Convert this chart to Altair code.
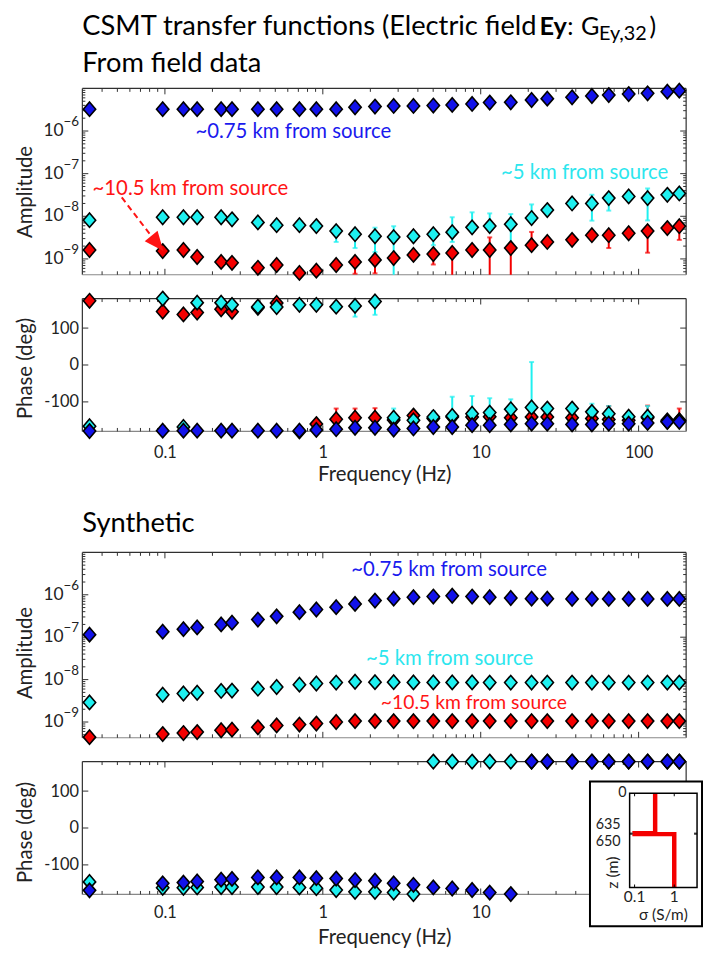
import altair as alt
import pandas as pd

# ---------------- data ----------------
FREQ = [0.0333, 0.0968, 0.131, 0.160, 0.227, 0.266, 0.388, 0.510, 0.711, 0.910,
        1.215, 1.60, 2.14, 2.81, 3.75, 5.01, 6.60, 8.82, 11.4, 15.5,
        21.0, 26.4, 37.9, 50.6, 64.7, 86.5, 114, 152, 181]

# From field data - amplitude
FIELD_AMP_075 = [3.25e-6, 3.25e-6, 3.25e-6, 3.25e-6, 3.25e-6, 3.25e-6, 3.25e-6, 3.25e-6, 3.25e-6, 3.25e-6,
                 3.25e-6, 3.61e-6, 3.75e-6, 3.87e-6, 3.87e-6, 3.96e-6, 4.09e-6, 4.31e-6, 4.65e-6, 4.72e-6,
                 5.34e-6, 5.75e-6, 6.18e-6, 6.62e-6, 6.98e-6, 7.36e-6, 7.65e-6, 8.38e-6, 8.85e-6]
FIELD_AMP_5 = [8.1e-9, 9.5e-9, 9.5e-9, 9.5e-9, 9.5e-9, 8.5e-9, 7.2e-9, 6.2e-9, 6.2e-9, 5.9e-9,
               4.5e-9, 3.8e-9, 3.4e-9, 3.25e-9, 3.4e-9, 3.8e-9, 4.25e-9, 5.5e-9, 5.9e-9, 6.5e-9,
               9.1e-9, 1.4e-8, 2.0e-8, 2.0e-8, 2.67e-8, 2.92e-8, 2.67e-8, 3.19e-8, 3.43e-8]
FIELD_AMP_105 = [1.62e-9, 1.53e-9, 1.62e-9, 1.11e-9, 8.5e-10, 8.1e-10, 6.2e-10, 7.2e-10, 4.7e-10, 5.3e-10,
                 7.2e-10, 8.5e-10, 9.5e-10, 1.05e-9, 1.24e-9, 1.3e-9, 1.38e-9, 1.62e-9, 1.62e-9, 1.8e-9,
                 2.1e-9, 2.5e-9, 2.8e-9, 3.6e-9, 3.6e-9, 4.0e-9, 4.5e-9, 5.3e-9, 5.85e-9]
# error bars (freq, low, high); 1e-10 = extends below the axis
FIELD_AMP_ERR_5 = [(1.215, 2.5e-9, 4.5e-9), (1.60, 1.8e-9, 3.8e-9), (2.14, 1.45e-9, 5.4e-9),
                   (2.81, 1e-10, 5.85e-9), (5.01, 2.1e-9, 3.8e-9), (6.60, 2.5e-9, 9.5e-9),
                   (8.82, 5.5e-9, 1.24e-8), (11.4, 5.9e-9, 1.17e-8), (15.5, 2.0e-9, 1.13e-8),
                   (21.0, 9.1e-9, 1.9e-8), (50.6, 7.9e-9, 3.2e-8), (64.7, 1.36e-8, 2.67e-8),
                   (114, 8.0e-9, 4.5e-8)]
FIELD_AMP_ERR_105 = [(1.60, 4.5e-10, 8.5e-10), (2.14, 4.6e-10, 9.5e-10), (5.01, 7.4e-10, 1.3e-9),
                     (6.60, 1e-10, 1.38e-9), (11.4, 1e-10, 3.2e-9), (15.5, 1e-10, 1.8e-9),
                     (21.0, 2.1e-9, 4.3e-9), (64.7, 1.8e-9, 3.6e-9), (114, 1.4e-9, 4.5e-9),
                     (181, 2.8e-9, 5.85e-9)]

# From field data - phase
FIELD_PH_075 = [-179, -178, -178, -178, -178, -178, -178, -178, -178, -176,
                -174, -170, -170, -175, -172, -168, -168, -163, -163, -161,
                -159, -159, -161, -161, -159, -159, -157, -154, -154]
FIELD_PH_5 = [-166, 180, -168, 169, 169, 163, 158, 157, 163, 163,
              158, 160, 172, -143, -150, -141, -138, -132, -129, -120,
              -115, -118, -118, -127, -132, -140, -140, -150, -150]
FIELD_PH_105 = [174, 145, 137, 142, 151, 144, 155, 168, -180, -160,
                -147, -143, -143, -149, -137, -145, -141, -141, -140, -143,
                -141, -141, -143, -145, -148, -150, -143, -154, -150]
FIELD_PH_ERR_5 = [(1.60, 131, 160), (2.14, 136, 172), (2.81, -143, -118), (5.01, -141, -125),
                  (6.60, -138, -86), (8.82, -132, -84), (11.4, -129, -90), (15.5, -120, -93),
                  (21.0, -115, 8), (50.6, -127, -105), (64.7, -132, -111), (114, -140, -111)]
FIELD_PH_ERR_105 = [(1.215, -147, -118), (1.60, -143, -118), (2.14, -143, -117),
                    (64.7, -148, -111), (114, -143, -110), (181, -150, -118)]

# Synthetic
SYN_AMP_075 = [1.15e-7, 1.35e-7, 1.55e-7, 1.7e-7, 2.0e-7, 2.2e-7, 2.6e-7, 3.1e-7, 3.9e-7, 4.5e-7,
               5.1e-7, 6.1e-7, 7.3e-7, 8.1e-7, 8.8e-7, 9.1e-7, 9.5e-7, 9.1e-7, 8.8e-7, 8.4e-7,
               8.1e-7, 8.1e-7, 8.0e-7, 8.0e-7, 8.0e-7, 8.0e-7, 8.0e-7, 8.0e-7, 8.0e-7]
SYN_AMP_5 = [2.9e-9, 4.4e-9, 4.7e-9, 4.9e-9, 5.4e-9, 5.5e-9, 6.1e-9, 6.7e-9, 7.6e-9, 8.1e-9,
             8.5e-9, 8.9e-9, 8.7e-9, 8.7e-9, 8.6e-9, 8.6e-9, 8.6e-9, 8.6e-9, 8.5e-9, 8.5e-9,
             8.5e-9, 8.5e-9, 8.5e-9, 8.5e-9, 8.5e-9, 8.5e-9, 8.5e-9, 8.5e-9, 8.5e-9]
SYN_AMP_105 = [4.4e-10, 5.2e-10, 5.5e-10, 5.8e-10, 6.4e-10, 6.6e-10, 7.5e-10, 8.3e-10, 8.7e-10, 9.2e-10,
               1.0e-9, 1.05e-9, 1.05e-9, 1.05e-9, 1.05e-9, 1.05e-9, 1.05e-9, 1.05e-9, 1.05e-9, 1.05e-9,
               1.05e-9, 1.05e-9, 1.05e-9, 1.05e-9, 1.05e-9, 1.05e-9, 1.05e-9, 1.05e-9, 1.05e-9]
SYN_PH_075 = [-169, -150, -148, -145, -140, -138, -134, -134, -134, -136,
              -137, -141, -143, -150, -154, -161, -164, -168, -175, -179,
              180, 180, 180, 180, 180, 180, 180, 180, 180]
SYN_PH_5 = [-146, -162, -162, -161, -160, -160, -160, -160, -161, -163,
            -168, -173, -173, -175, -179, 180, 180, 180, 180, 180,
            180, 180, 180, 180, 180, 180, 180, 180, 180]

# Inset: conductivity model
INSET_SIGMA = [0.33, 0.33, 0.1, 0.1, 1.0, 1.0]
INSET_Z = [0, 635, 635, 650, 650, 1500]

# Tick values
X_MAJOR = [0.1, 1, 10, 100]
X_MINOR = [0.04, 0.05, 0.06, 0.07, 0.08, 0.09, 0.2, 0.3, 0.4, 0.5, 0.6, 0.7, 0.8, 0.9,
           2, 3, 4, 5, 6, 7, 8, 9, 20, 30, 40, 50, 60, 70, 80, 90]
A_MAJOR = [1e-9, 1e-8, 1e-7, 1e-6]
A_EXP = ["\u22129", "\u22128", "\u22127", "\u22126"]
A_MINOR = [m * 10.0 ** e for e in (-10, -9, -8, -7, -6) for m in (2, 3, 4, 5, 6, 7, 8, 9)
           if 4.3e-10 < m * 10.0 ** e < 1e-5]
P_MAJOR = [-100, 0, 100]

# ---------------- styling ----------------
FONT = "Lato"
W = 609
H_AMP1, H_AMP2, H_PH = 188, 187, 134
XDOM = [0.03, 200]
ADOM = [4.25e-10, 1e-5]
PDOM = [-180, 180]
BLUE, CYAN, RED = "#1212ea", "#1ef0f0", "#f40000"
TBLUE, TCYAN, TRED = "#1a1aee", "#2ce6ee", "#ff1414"
FRAME = "#303030"
TXT = "#222222"
DIAMOND = "M0,-1L0.86,0L0,1L-0.86,0Z"
ARROWHEAD = "M-0.85,-1L0.85,-1L0,1Z"
AX_TITLE = 20.5
TICK_LAB = 16.5
TITLE = 27.5

XS = alt.Scale(type="log", domain=XDOM, nice=False)
AS = alt.Scale(type="log", domain=ADOM, nice=False, clamp=True)
PS = alt.Scale(domain=PDOM, nice=False, clamp=True)


def one():
    return pd.DataFrame({"k": [0]})


def amp_yaxis(title_y):
    return alt.Axis(labels=False, ticks=False, domain=False, grid=False, title="Amplitude",
                    titleFont=FONT, titleFontSize=AX_TITLE, titleFontWeight="normal", titleColor=TXT,
                    titleAngle=270, titleBaseline="bottom", titleX=-47, titleY=title_y)


def ph_yaxis(title_y):
    return alt.Axis(values=P_MAJOR, labelExpr="'' + datum.value", ticks=False, tickSize=0,
                    domain=False, grid=False, labelFont=FONT, labelFontSize=TICK_LAB, labelColor=TXT,
                    labelPadding=4, title="Phase (deg)", titleFont=FONT, titleFontSize=AX_TITLE,
                    titleFontWeight="normal", titleColor=TXT, titleAngle=270,
                    titleBaseline="bottom", titleX=-47, titleY=title_y)


def ph_xaxis(pad, title_y, values):
    return alt.Axis(values=values, format="~g", ticks=False, tickSize=0, domain=False, grid=False,
                    labelFont=FONT, labelFontSize=TICK_LAB, labelColor=TXT, labelPadding=pad,
                    title="Frequency (Hz)", titleFont=FONT, titleFontSize=AX_TITLE,
                    titleFontWeight="normal", titleColor=TXT, titleY=title_y, titleBaseline="top")


def enc_makers(xaxis, yscale, yaxis):
    def xe(f):
        return alt.X(f, type="quantitative", scale=XS, axis=xaxis)

    def ye(f):
        return alt.Y(f, type="quantitative", scale=yscale, axis=yaxis)
    return xe, ye


def frame_layers(h):
    b = alt.Chart(one())
    return [
        b.mark_rule(color=FRAME, strokeWidth=1.2).encode(x=alt.value(0), x2=alt.value(W), y=alt.value(0)),
        b.mark_rule(color=FRAME, strokeWidth=1.2).encode(x=alt.value(0), y=alt.value(0), y2=alt.value(h)),
        b.mark_rule(color=FRAME, strokeWidth=1.2).encode(x=alt.value(W), y=alt.value(0), y2=alt.value(h)),
        b.mark_rule(color="#888888", strokeWidth=1.2).encode(x=alt.value(0), x2=alt.value(W), y=alt.value(h)),
    ]


def tick_layers(h, xe, ye, ymaj, ymin):
    out = []
    for vals, ln in ((X_MAJOR, 6), (X_MINOR, 3.5)):
        d = pd.DataFrame({"t": vals})
        out.append(alt.Chart(d).mark_rule(color=FRAME).encode(x=xe("t"), y=alt.value(h), y2=alt.value(h - ln)))
        out.append(alt.Chart(d).mark_rule(color=FRAME).encode(x=xe("t"), y=alt.value(0), y2=alt.value(ln)))
    for vals, ln in ((ymaj, 6), (ymin, 3)):
        if not vals:
            continue
        d = pd.DataFrame({"t": vals})
        out.append(alt.Chart(d).mark_rule(color=FRAME).encode(y=ye("t"), x=alt.value(0), x2=alt.value(ln)))
        out.append(alt.Chart(d).mark_rule(color=FRAME).encode(y=ye("t"), x=alt.value(W), x2=alt.value(W - ln)))
    return out


def series(vals, color, xe, ye):
    d = pd.DataFrame({"f": FREQ, "v": vals})
    return alt.Chart(d).mark_point(shape=DIAMOND, size=210, filled=True, fill=color, stroke="black",
                                   strokeWidth=1.6, opacity=1, fillOpacity=1).encode(x=xe("f"), y=ye("v"))


def errbars(bars, color, xe, ye, lo_dom, hi_dom):
    d = pd.DataFrame(bars, columns=["f", "lo", "hi"])
    rule = alt.Chart(d).mark_rule(color=color, strokeWidth=2).encode(
        x=xe("f"), y=ye("lo"), y2=alt.Y2("hi"))
    caps = [(f, v) for f, lo, hi in bars for v in (lo, hi) if lo_dom < v < hi_dom]
    dc = pd.DataFrame(caps, columns=["f", "c"])
    cap = alt.Chart(dc).mark_tick(color=color, orient="horizontal", size=5, thickness=2).encode(
        x=xe("f"), y=ye("c"))
    return [rule, cap]


def amp_labels(ye):
    d = pd.DataFrame({"t": A_MAJOR, "b": ["10"] * 4, "e": A_EXP})
    return [
        alt.Chart(d).mark_text(align="right", baseline="middle", font=FONT, fontSize=17.5, color=TXT).encode(
            x=alt.value(-19), y=ye("t"), text="b:N"),
        alt.Chart(d).mark_text(align="left", baseline="middle", font=FONT, fontSize=13.5, dy=-9, color=TXT).encode(
            x=alt.value(-19), y=ye("t"), text="e:N"),
    ]


def label(text, f, v, color, size, xe, ye):
    d = pd.DataFrame({"f": [f], "v": [v], "s": [text]})
    return alt.Chart(d).mark_text(font=FONT, fontSize=size, color=color, align="center",
                                  baseline="middle").encode(x=xe("f"), y=ye("v"), text="s:N")


def free_text(text, x, y, size, weight="normal", color="black", align="left", baseline="alphabetic", angle=0):
    return alt.Chart(one()).mark_text(text=text, font=FONT, fontSize=size, fontWeight=weight, color=color,
                                      align=align, baseline=baseline, angle=angle).encode(
        x=alt.value(x), y=alt.value(y))


# ---------------- panel 1: field amplitude ----------------
xe1, ye1 = enc_makers(None, AS, amp_yaxis(104))
arrow_df = pd.DataFrame({"f": [0.0533, 0.0826], "v": [2.77e-8, 3.33e-9]})
head_df = pd.DataFrame({"f": [0.0888], "v": [2.38e-9]})
amp1 = alt.layer(
    *frame_layers(H_AMP1),
    *tick_layers(H_AMP1, xe1, ye1, A_MAJOR, A_MINOR),
    *errbars(FIELD_AMP_ERR_105, RED, xe1, ye1, ADOM[0], ADOM[1]),
    *errbars(FIELD_AMP_ERR_5, CYAN, xe1, ye1, ADOM[0], ADOM[1]),
    series(FIELD_AMP_105, RED, xe1, ye1),
    series(FIELD_AMP_5, CYAN, xe1, ye1),
    series(FIELD_AMP_075, BLUE, xe1, ye1),
    *amp_labels(ye1),
    label("~0.75 km from source", 0.65, 9.5e-7, TBLUE, 20.5, xe1, ye1),
    label("~5 km from source", 45.5, 1.05e-7, TCYAN, 20.5, xe1, ye1),
    label("~10.5 km from source", 0.145, 4.25e-8, TRED, 20.5, xe1, ye1),
    alt.Chart(arrow_df).mark_line(color=TRED, strokeWidth=2, strokeDash=[6, 4]).encode(x=xe1("f"), y=ye1("v")),
    alt.Chart(head_df).mark_point(shape=ARROWHEAD, size=256, filled=True, fill=TRED, stroke=TRED,
                                  angle=321, opacity=1).encode(x=xe1("f"), y=ye1("v")),
    free_text("CSMT transfer functions (Electric field", 0, -54, TITLE),
    free_text("Ey", 461, -54, 25.5, weight="bold"),
    free_text(":", 489, -54, 25),
    free_text("G", 503, -54, 25.5),
    free_text("Ey,32", 521, -49, 20),
    free_text(")", 572, -54, 25),
    free_text("From field data", 0, -17, TITLE),
    alt.Chart(one()).mark_rule(strokeOpacity=0).encode(
        x=alt.value(-75), x2=alt.value(-74), y=alt.value(-77), y2=alt.value(-76)),
).properties(width=W, height=H_AMP1)

# ---------------- panel 2: field phase ----------------
xe2, ye2 = enc_makers(ph_xaxis(13, 33, X_MAJOR), PS, ph_yaxis(70))
ph1 = alt.layer(
    *frame_layers(H_PH),
    *tick_layers(H_PH, xe2, ye2, P_MAJOR, []),
    *errbars(FIELD_PH_ERR_105, RED, xe2, ye2, -181, 181),
    *errbars(FIELD_PH_ERR_5, CYAN, xe2, ye2, -181, 181),
    series(FIELD_PH_105, RED, xe2, ye2),
    series(FIELD_PH_5, CYAN, xe2, ye2),
    series(FIELD_PH_075, BLUE, xe2, ye2),
).properties(width=W, height=H_PH)

# ---------------- spacer between the two groups ----------------
spacer = alt.Chart(one()).mark_point(opacity=0).encode(
    x=alt.value(0), y=alt.value(0)).properties(width=W, height=74)

# ---------------- panel 3: synthetic amplitude ----------------
xe3, ye3 = enc_makers(None, AS, amp_yaxis(101))
amp2 = alt.layer(
    *frame_layers(H_AMP2),
    *tick_layers(H_AMP2, xe3, ye3, A_MAJOR, A_MINOR),
    series(SYN_AMP_105, RED, xe3, ye3),
    series(SYN_AMP_5, CYAN, xe3, ye3),
    series(SYN_AMP_075, BLUE, xe3, ye3),
    *amp_labels(ye3),
    label("~0.75 km from source", 6.3, 3.8e-6, TBLUE, 20.5, xe3, ye3),
    label("~5 km from source", 6.35, 3.1e-8, TCYAN, 20.5, xe3, ye3),
    label("~10.5 km from source", 9.06, 2.77e-9, TRED, 19.5, xe3, ye3),
    free_text("Synthetic", 0, -21, TITLE),
).properties(width=W, height=H_AMP2)

# ---------------- panel 4: synthetic phase + inset ----------------
# (the "100" frequency label lies under the inset in the reference, so it is not drawn)
xe4, ye4 = enc_makers(ph_xaxis(10, 34, X_MAJOR[:3]), PS, ph_yaxis(71))
main4 = alt.layer(
    *frame_layers(H_PH),
    *tick_layers(H_PH, xe4, ye4, P_MAJOR, []),
    series(SYN_PH_5, CYAN, xe4, ye4),
    series(SYN_PH_075, BLUE, xe4, ye4),
)

IXS = alt.Scale(type="log", domain=[0.075, 3.76], range=[552, 620], nice=False)
IYS = alt.Scale(domain=[0, 1500], range=[32, 127], nice=False)


def ix(f):
    return alt.X(f, type="quantitative", scale=IXS, axis=None)


def iy(f):
    return alt.Y(f, type="quantitative", scale=IYS, axis=None)


prof = pd.DataFrame({"s": INSET_SIGMA, "z": INSET_Z, "i": list(range(len(INSET_Z)))})
sig_ticks = pd.DataFrame({"s": [0.1, 1.0], "lab": ["0.1", "1"]})
z_ticks = pd.DataFrame({"z": [635, 650]})
inset_layers = [
    alt.Chart(one()).mark_rect(fill="white", stroke="black", strokeWidth=2).encode(
        x=alt.value(512), x2=alt.value(625), y=alt.value(20), y2=alt.value(166)),
    alt.Chart(prof).mark_line(color=RED, strokeWidth=4.5).encode(x=ix("s"), y=iy("z"), order="i:Q"),
    alt.Chart(one()).mark_rect(fill="white", fillOpacity=0, stroke="black", strokeWidth=1.5).encode(
        x=alt.value(552), x2=alt.value(620), y=alt.value(32), y2=alt.value(127)),
    alt.Chart(sig_ticks).mark_rule(color="black").encode(x=ix("s"), y=alt.value(32), y2=alt.value(35)),
    alt.Chart(sig_ticks).mark_rule(color="black").encode(x=ix("s"), y=alt.value(127), y2=alt.value(124)),
    alt.Chart(z_ticks).mark_rule(color="black").encode(y=iy("z"), x=alt.value(552), x2=alt.value(555)),
    alt.Chart(z_ticks).mark_rule(color="black").encode(y=iy("z"), x=alt.value(620), x2=alt.value(617)),
    alt.Chart(sig_ticks).mark_text(font=FONT, fontSize=15.5, color=TXT, baseline="middle").encode(
        x=ix("s"), y=alt.value(137), text="lab:N"),
]
for zval, lab, dy, xr in ((0, "0", 0, 549), (635, "635", -8, 543), (650, "650", 8, 543)):
    inset_layers.append(
        alt.Chart(pd.DataFrame({"z": [zval], "lab": [lab]})).mark_text(
            font=FONT, fontSize=14.5, color=TXT, align="right", baseline="middle", dy=dy).encode(
            x=alt.value(xr), y=iy("z"), text="lab:N"))
inset_layers.append(free_text("z (m)", 535, 112, 16, color=TXT, align="center", baseline="middle", angle=270))
inset_layers.append(free_text("\u03c3 (S/m)", 586, 155, 15.5, color=TXT, align="center", baseline="middle"))
inset = alt.layer(*inset_layers)

ph2 = alt.layer(main4, inset).resolve_scale(x="independent", y="independent").properties(
    width=W, height=H_PH)

chart = alt.vconcat(amp1, ph1, spacer, amp2, ph2, spacing=24, bounds="flush").properties(
    padding=0, background="white").configure_view(stroke=None)

chart.save("out.html", embed_options={"renderer": "svg", "actions": False})
